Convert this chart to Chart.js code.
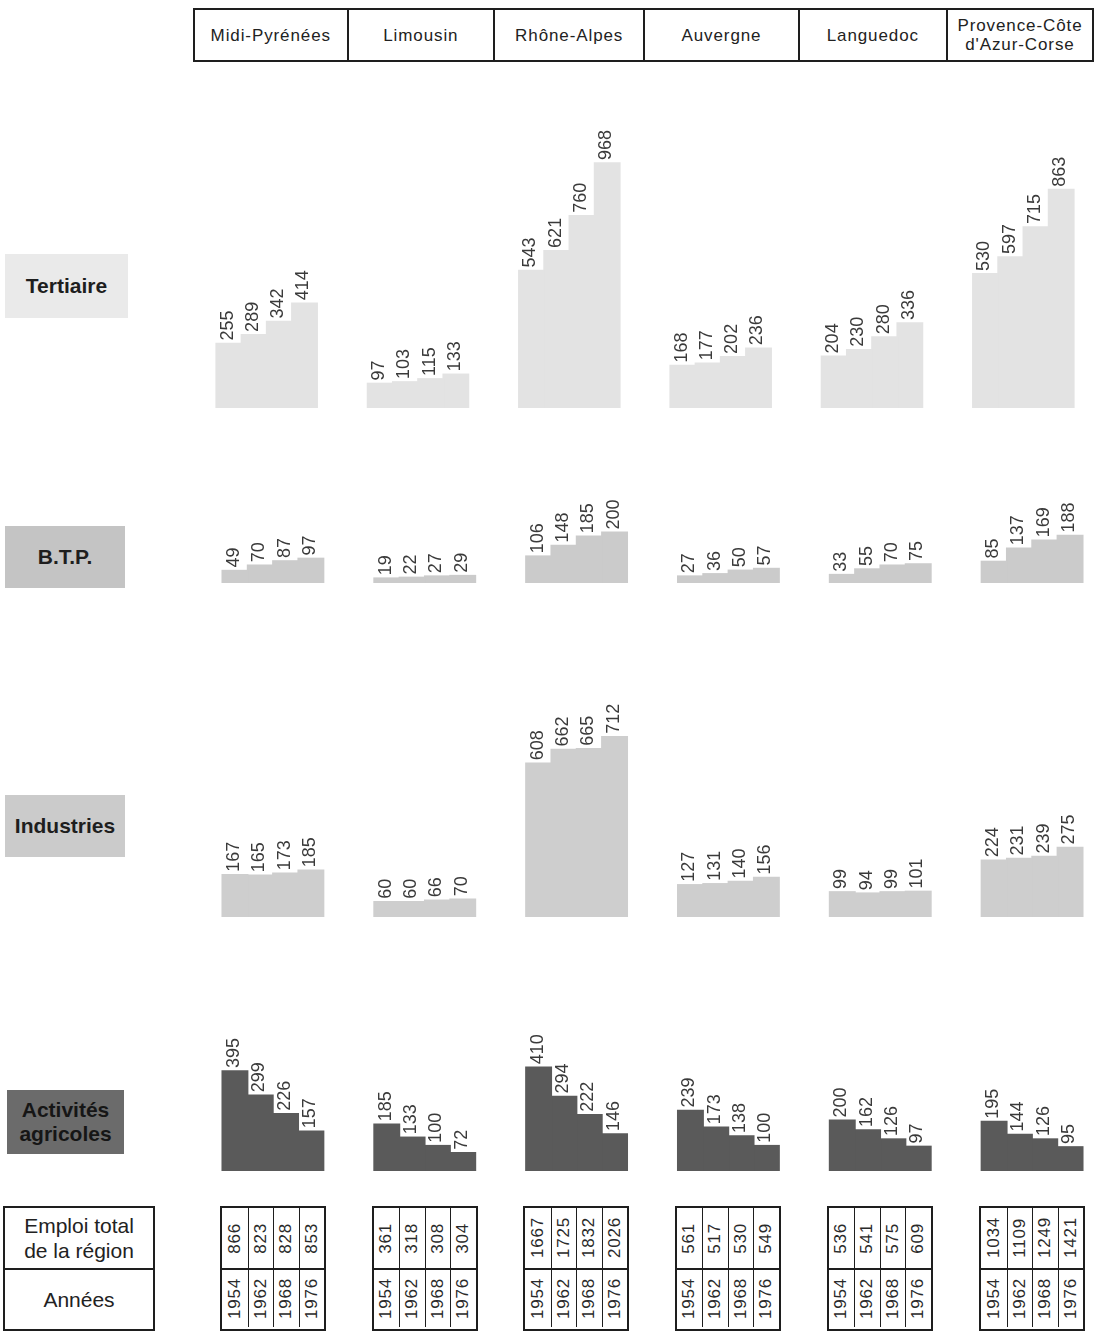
<!DOCTYPE html>
<html lang="fr">
<head>
<meta charset="utf-8">
<title>Emploi par secteur - régions du Sud</title>
<script src="https://cdn.jsdelivr.net/npm/chart.js@4.4.1/dist/chart.umd.min.js"></script>
<style>
  html, body { margin: 0; padding: 0; background: #fff; }
  body { position: relative; width: 1094px; height: 1333px; overflow: hidden;
         font-family: "Liberation Sans", Arial, sans-serif; color: #1e1e1e; }
  #head { position: absolute; left: 193px; top: 8px; height: 54px; border-collapse: collapse;
          border: 2px solid #1e1e1e; table-layout: fixed; }
  #head td { border: 2px solid #1e1e1e; text-align: center; vertical-align: middle;
             font-size: 17px; letter-spacing: 0.9px; line-height: 19px; padding: 0; color: #222; }
  .rowlab { position: absolute; display: flex; align-items: center; justify-content: center;
            text-align: center; font-weight: bold; font-size: 21px; line-height: 24px; }
  canvas { position: absolute; }
  .legend { position: absolute; left: 3px; top: 1206px; width: 148px; height: 121px;
            border: 2px solid #1e1e1e; font-size: 21px; color: #222; }
  .legend div { height: 60px; display: flex; align-items: center; justify-content: center;
                text-align: center; line-height: 25px; }
  .legend div + div { border-top: 2px solid #1e1e1e; height: 59px; }
  .mini { position: absolute; top: 1206px; height: 121px; border: 2px solid #1e1e1e;
          display: grid; grid-template-columns: repeat(4, 1fr); grid-template-rows: 60px 59px; }
  .mini span { display: flex; align-items: center; justify-content: center;
               border-left: 1.5px solid #1e1e1e; font-size: 17px; letter-spacing: 0.8px; color: #2a2a2a; }
  .mini span:nth-child(4n+1) { border-left: none; }
  .mini span.yr { border-top: 2px solid #1e1e1e; }
  .mini span b { font-weight: normal; writing-mode: vertical-rl; transform: rotate(180deg); }
</style>
</head>
<body>

<table id="head"><tr id="headRow"></tr></table>

<div class="rowlab" style="left:5px;top:254px;width:123px;height:64px;background:#eaeaea;">Tertiaire</div>
<div class="rowlab" style="left:5px;top:526px;width:120px;height:62px;background:#c4c4c4;">B.T.P.</div>
<div class="rowlab" style="left:5px;top:795px;width:120px;height:62px;background:#cbcbcb;">Industries</div>
<div class="rowlab" style="left:7px;top:1090px;width:117px;height:64px;background:#6b6b6b;color:#161616;">Activités<br>agricoles</div>

<canvas id="tertiaire"></canvas>
<canvas id="btp"></canvas>
<canvas id="industries"></canvas>
<canvas id="agricoles"></canvas>

<div class="legend">
  <div>Emploi total<br>de la région</div>
  <div>Années</div>
</div>
<div id="tables"></div>

<script>
// --- données (milliers d'emplois) ---
const regions = ['Midi-Pyrénées', 'Limousin', 'Rhône-Alpes', 'Auvergne', 'Languedoc', 'Provence-Côte\nd\'Azur-Corse'];
const years = [1954, 1962, 1968, 1976];

// une liste par région : valeurs 1954, 1962, 1968, 1976
const tertiaire  = [[255, 289, 342, 414], [97, 103, 115, 133], [543, 621, 760, 968], [168, 177, 202, 236], [204, 230, 280, 336], [530, 597, 715, 863]];
const btp        = [[49, 70, 87, 97], [19, 22, 27, 29], [106, 148, 185, 200], [27, 36, 50, 57], [33, 55, 70, 75], [85, 137, 169, 188]];
const industries = [[167, 165, 173, 185], [60, 60, 66, 70], [608, 662, 665, 712], [127, 131, 140, 156], [99, 94, 99, 101], [224, 231, 239, 275]];
const agricoles  = [[395, 299, 226, 157], [185, 133, 100, 72], [410, 294, 222, 146], [239, 173, 138, 100], [200, 162, 126, 97], [195, 144, 126, 95]];
const emploiTotal = [[866, 823, 828, 853], [361, 318, 308, 304], [1667, 1725, 1832, 2026], [561, 517, 530, 549], [536, 541, 575, 609], [1034, 1109, 1249, 1421]];

// --- mise en page ---
const PX_PER_UNIT = 0.253;
const headWidths = [154, 147, 151, 155, 148, 146];

const rows = [
  { id: 'tertiaire',  values: tertiaire,  color: '#e3e3e3', left: 191, width: 908, top: 100,  base: 408 },
  { id: 'btp',        values: btp,        color: '#cbcbcb', left: 197, width: 911, top: 470,  base: 583 },
  { id: 'industries', values: industries, color: '#cecece', left: 197, width: 911, top: 690,  base: 917 },
  { id: 'agricoles',  values: agricoles,  color: '#5a5a5a', left: 197, width: 911, top: 1012, base: 1171 }
];

// en-tête
const headRow = document.getElementById('headRow');
regions.forEach((r, i) => {
  const td = document.createElement('td');
  td.style.width = headWidths[i] + 'px';
  td.innerHTML = r.replace('\n', '<br>');
  headRow.appendChild(td);
});

// étiquettes verticales au-dessus des barres
const barLabels = {
  id: 'barLabels',
  afterDatasetsDraw(chart) {
    const ctx = chart.ctx;
    ctx.save();
    ctx.font = '18px "Liberation Sans", Arial, sans-serif';
    ctx.fillStyle = '#3a3a3a';
    ctx.textAlign = 'left';
    ctx.textBaseline = 'middle';
    chart.data.datasets.forEach((ds, i) => {
      chart.getDatasetMeta(i).data.forEach((bar, j) => {
        ctx.save();
        ctx.translate(bar.x - 1, bar.y - 3);
        ctx.rotate(-Math.PI / 2);
        ctx.fillText(String(ds.data[j]), 0, 0);
        ctx.restore();
      });
    });
    ctx.restore();
  }
};

rows.forEach(row => {
  const canvas = document.getElementById(row.id);
  const h = row.base - row.top;
  canvas.width = row.width;
  canvas.height = h;
  canvas.style.left = row.left + 'px';
  canvas.style.top = row.top + 'px';
  canvas.style.width = row.width + 'px';
  canvas.style.height = h + 'px';

  new Chart(canvas.getContext('2d'), {
    type: 'bar',
    data: {
      labels: regions,
      datasets: years.map((y, k) => ({
        label: String(y),
        data: row.values.map(v => v[k]),
        backgroundColor: row.color,
        borderWidth: 0,
        inflateAmount: 0.8,
        categoryPercentage: 0.667,
        barPercentage: 1.0
      }))
    },
    options: {
      responsive: false,
      animation: false,
      layout: { padding: 0 },
      plugins: { legend: { display: false }, tooltip: { enabled: false } },
      scales: {
        x: { display: false, grid: { display: false } },
        y: { display: false, min: 0, max: h / PX_PER_UNIT }
      }
    },
    plugins: [barLabels]
  });
});

// petits tableaux : emploi total et années
const tables = document.getElementById('tables');
const tableCenters = [273, 424.5, 576, 727.5, 879.5, 1032];
emploiTotal.forEach((tot, i) => {
  const div = document.createElement('div');
  div.className = 'mini';
  div.style.left = (tableCenters[i] - 53) + 'px';
  div.style.width = '102px';
  let html = '';
  tot.forEach(v => { html += '<span><b>' + v + '</b></span>'; });
  years.forEach(y => { html += '<span class="yr"><b>' + y + '</b></span>'; });
  div.innerHTML = html;
  tables.appendChild(div);
});
</script>
</body>
</html>
